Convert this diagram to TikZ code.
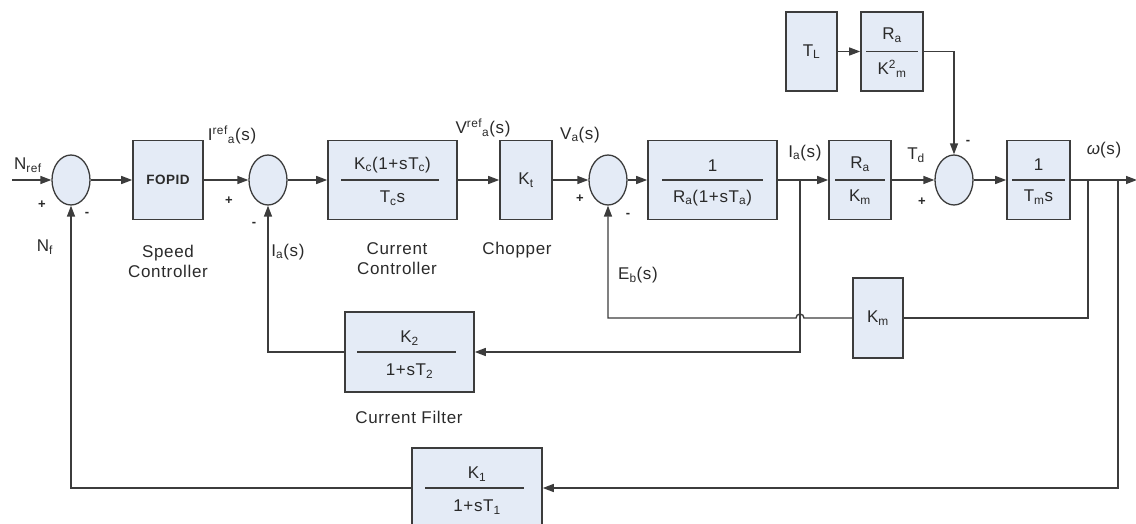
\documentclass[tikz,border=0pt]{standalone}
\usepackage{fontspec}
\setmainfont[LetterSpace=4.0]{Liberation Sans}
\usetikzlibrary{arrows.meta,shapes.geometric,calc}

\definecolor{blockfill}{HTML}{E4EBF6}
\definecolor{wire}{HTML}{3C3C3C}
\definecolor{inkgray}{HTML}{2A2A2A}

\newcommand{\lo}[1]{\textsubscript{#1}}
\newcommand{\hi}[1]{\textsuperscript{#1}}

\begin{document}
\begin{tikzpicture}[x=1pt,y=-1pt,>={Triangle[length=11pt,width=8pt]},
    font=\fontsize{17}{20}\selectfont,text=inkgray,
    block/.style={draw=wire,line width=1.6pt,fill=blockfill,minimum height=79pt,inner sep=0pt},
    sumnode/.style={ellipse,draw=wire,line width=1.3pt,fill=blockfill,minimum width=38pt,minimum height=50pt,inner sep=0pt},
    wireline/.style={draw=wire,line width=1.4pt},
    sgn/.style={font=\bfseries\fontsize{13}{13}\selectfont}]

\useasboundingbox (0,0) rectangle (1136,524);

% summing junctions
\node[sumnode] (sum1) at (71,180) {};
\node[sumnode] (sum2) at (268,180) {};
\node[sumnode] (sum3) at (608,180) {};
\node[sumnode] (sum4) at (954,180) {};

% forward blocks
\node[block,minimum width=70pt] (fopid) at (168,180)
    {\bfseries\fontsize{13.5}{15}\selectfont FOPID};

\node[block,minimum width=129pt] (cc) at (392.5,180) {};
\draw[wireline] ($(cc.west)+(14,0)$) -- ($(cc.east)+(-19,0)$);
\node (ccnum) at ($(cc)+(0,-15)$) {K\lo{c}(1+sT\lo{c})};
\node (ccden) at ($(cc)+(0,18)$) {T\lo{c}s};

\node[block,minimum width=52pt] (kt) at (526,180) {K\lo{t}};

\node[block,minimum width=129pt] (arm) at (712.5,180) {};
\draw[wireline] ($(arm.west)+(15,0)$) -- ($(arm.east)+(-15,0)$);
\node (armnum) at ($(arm)+(0,-14)$) {1};
\node (armden) at ($(arm)+(0,18)$) {R\lo{a}(1+sT\lo{a})};

\node[block,minimum width=62pt] (rakm) at (860,180) {};
\draw[wireline] ($(rakm.west)+(7,0)$) -- ($(rakm.east)+(-7,0)$);
\node (rakmnum) at ($(rakm)+(0,-16)$) {R\lo{a}};
\node (rakmden) at ($(rakm)+(0,17)$) {K\lo{m}};

\node[block,minimum width=63pt] (tm) at (1038.5,180) {};
\draw[wireline] ($(tm.west)+(6,0)$) -- ($(tm.east)+(-6,0)$);
\node (tmnum) at ($(tm)+(0,-15)$) {1};
\node (tmden) at ($(tm)+(0,17)$) {T\lo{m}s};

% load torque
\node[block,minimum width=51pt] (tl) at (811.5,51.5) {T\lo{L}};

\node[block,minimum width=62pt] (rak2) at (892,51.5) {};
\draw[wireline] ($(rak2.west)+(6,0)$) -- ($(rak2.east)+(-6,0)$);
\node (rak2num) at ($(rak2)+(0,-16)$) {R\lo{a}};
\node (rak2den) at ($(rak2)+(0,17)$) {K\hi{2}\lo{m}};

% feedback blocks
\node[block,minimum width=50pt,minimum height=80pt] (km) at (878,318) {K\lo{m}};

\node[block,minimum width=129pt,minimum height=80pt] (filt) at (409.5,352) {};
\draw[wireline] ($(filt.west)+(13,0)$) -- ($(filt.east)+(-19,0)$);
\node (filtnum) at ($(filt)+(0,-14)$) {K\lo{2}};
\node (filtden) at ($(filt)+(0,19)$) {1+sT\lo{2}};

\node[block,minimum width=130pt,minimum height=80pt] (kone) at (477,488) {};
\draw[wireline] ($(kone.west)+(14,0)$) -- ($(kone.east)+(-19,0)$);
\node (konenum) at ($(kone)+(0,-14)$) {K\lo{1}};
\node (koneden) at ($(kone)+(0,19)$) {1+sT\lo{1}};

% wiring points
\coordinate (nin) at (12,180);
\coordinate (nout) at (1137,180);
\coordinate (iabr) at (800,180);
\coordinate (wbr) at (1088,180);
\coordinate (wfb) at (1118,180);
\coordinate (hop) at (804,318);

% forward path
\draw[wireline,->] (nin) -- (sum1);
\draw[wireline,->] (sum1) -- (fopid);
\draw[wireline,->] (fopid) -- (sum2);
\draw[wireline,->] (sum2) -- (cc);
\draw[wireline,->] (cc) -- (kt);
\draw[wireline,->] (kt) -- (sum3);
\draw[wireline,->] (sum3) -- (arm);
\draw[wireline,->] (arm) -- (rakm);
\draw[wireline,->] (rakm) -- (sum4);
\draw[wireline,->] (sum4) -- (tm);
\draw[wireline,->] (tm) -- (nout);

\draw[wireline,->] (tl) -- (rak2);
\draw[wireline,->] (rak2.east) -| (sum4.north);

% feedback paths
\draw[wireline,->] (iabr) |- (filt.east);
\draw[wireline,->] (filt.west) -| (sum2.south);

\draw[wireline] (wbr) |- (km.east);
\draw[wireline,->] (km.west) -- (hop) arc[start angle=0,end angle=180,radius=4pt]
    -- (sum3.south |- km.west) -- (sum3.south);

\draw[wireline,->] (wfb) |- (kone.east);
\draw[wireline,->] (kone.west) -| (sum1.south);

% signal labels
\node (nref) at (28,165) {N\lo{ref}};
\node (nf) at (45,247) {N\lo{f}};
\node (iref) at (232,135) {I\hi{ref}\lo{a}(s)};
\node (iafb) at (288,252) {I\lo{a}(s)};
\node (vref) at (483,128) {V\hi{ref}\lo{a}(s)};
\node (va) at (580,135) {V\lo{a}(s)};
\node (eb) at (638,275) {E\lo{b}(s)};
\node (ia) at (805,153) {I\lo{a}(s)};
\node (td) at (916,155) {T\lo{d}};
\node (omega) at (1104,150) {{\itshape ω}(s)};

% signs
\node[sgn] (p1) at (42,205) {+};
\node[sgn] (m1) at (87,214) {-};
\node[sgn] (p2) at (229,201) {+};
\node[sgn] (m2) at (254,224) {-};
\node[sgn] (p3) at (580,199) {+};
\node[sgn] (m3) at (628,215) {-};
\node[sgn] (p4) at (922,202) {+};
\node[sgn] (m4) at (968,142) {-};

% captions
\node[align=center] (speed) at (168,261) {Speed\\Controller};
\node[align=center] (curctl) at (397,259) {Current\\Controller};
\node (chop) at (517,250) {Chopper};
\node (cfilt) at (409,417) {Current Filter};

\end{tikzpicture}
\end{document}
